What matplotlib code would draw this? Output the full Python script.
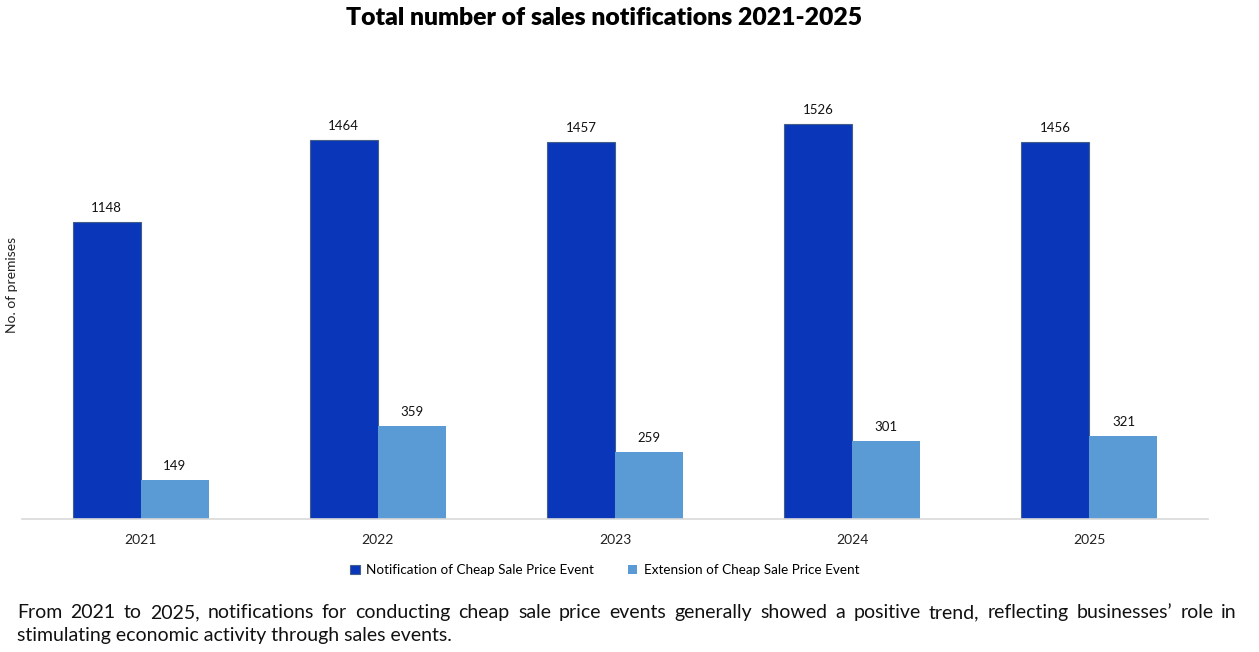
import matplotlib
matplotlib.use("Agg")
import matplotlib.pyplot as plt
import numpy as np

years = ["2021", "2022", "2023", "2024", "2025"]
notification = [1148, 1464, 1457, 1526, 1456]
extension = [149, 359, 259, 301, 321]
series_names = ["Notification of Cheap Sale Price Event", "Extension of Cheap Sale Price Event"]
title = "Total number of sales notifications 2021-2025"
ylabel = "No. of premises"
footer_line1 = ("From 2021 to 2025, notifications for conducting cheap sale price events generally "
                "showed a positive trend, reflecting businesses\u2019 role in")
footer_line2 = "stimulating economic activity through sales events."

plt.rcParams['font.family'] = ['Lato', 'DejaVu Sans']

W, H = 1259, 652
fig = plt.figure(figsize=(W / 100, H / 100), dpi=100)
ax = fig.add_axes([22 / W, (H - 519) / H, (1208 - 22) / W, (519 - 60) / H])

x = np.arange(len(years))
bw = 0.287
dark = "#0A37BA"
light = "#5B9BD5"
b1 = ax.bar(x - bw / 2, notification, bw, color=dark, edgecolor="#44608A", linewidth=0.8,
            label=series_names[0])
b2 = ax.bar(x + bw / 2, extension, bw, color=light, label=series_names[1])

for rects, vals in ((b1, notification), (b2, extension)):
    for r, v in zip(rects, vals):
        ax.annotate(str(v), (r.get_x() + r.get_width() / 2, v), xytext=(0, 6),
                    textcoords="offset points", ha="center", va="bottom", fontsize=9.5,
                    color="#111111")

ax.set_xlim(-0.5, len(years) - 0.5)
ax.set_ylim(0, (519 - 60) / 0.2588)
ax.set_xticks(x)
ax.set_xticklabels(years, fontsize=10, color="#222222")
ax.tick_params(axis="x", length=0, pad=11)
ax.set_yticks([])
for s in ("top", "right", "left"):
    ax.spines[s].set_visible(False)
ax.spines["bottom"].set_color("#D9D9D9")
ax.spines["bottom"].set_linewidth(1.2)

fig.text(12 / W, 1 - 285 / H, ylabel, rotation=90, ha="center", va="center", fontsize=10,
         color="#222222")
fig.text(604 / W, 1 - 18 / H, title, ha="center", va="center", fontsize=17.8, fontweight="heavy")

fig.legend(handles=[b1, b2], loc="center", bbox_to_anchor=(605 / W, 1 - 570 / H), ncol=2,
           frameon=False, fontsize=9.7, handlelength=0.7, handleheight=0.7, handletextpad=0.5,
           columnspacing=2.5)

# justified first footer line
fig.canvas.draw()
renderer = fig.canvas.get_renderer()
words = footer_line1.split(" ")
x0, x1 = 17, 1237
fs = 14
widths = []
for w in words:
    t = fig.text(0, 0, w, fontsize=fs)
    bb = t.get_window_extent(renderer)
    widths.append(bb.width)
    t.remove()
gap = (x1 - x0 - sum(widths)) / (len(words) - 1)
cx = x0
for w, wd in zip(words, widths):
    fig.text(cx / W, 1 - 618 / H, w, fontsize=fs, ha="left", va="baseline", color="#111111")
    cx += wd + gap
fig.text(x0 / W, 1 - 641 / H, footer_line2, fontsize=fs, ha="left", va="baseline",
         color="#111111")

fig.savefig("out.png", dpi=100)
